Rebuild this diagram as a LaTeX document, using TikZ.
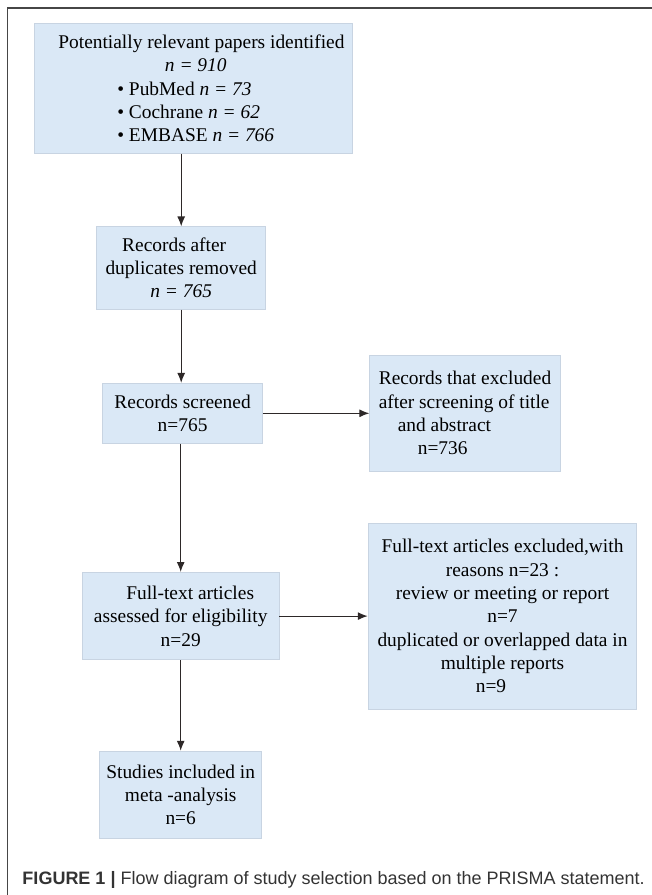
\documentclass[tikz,border=0pt]{standalone}
\usepackage{fontspec}
\setmainfont{Liberation Serif}
\newfontfamily\capfont{Liberation Sans}
\usepackage{tikz}
\usetikzlibrary{arrows.meta, positioning}

\definecolor{boxfill}{RGB}{218,232,246}
\definecolor{boxline}{RGB}{200,212,226}
\definecolor{arrowcol}{RGB}{45,40,40}
\definecolor{framecol}{RGB}{70,70,70}

\begin{document}
\begin{tikzpicture}[x=1pt, y=-1pt,
    flowbox/.style={draw=boxline, line width=0.8pt, fill=boxfill, inner sep=2pt, align=center,
        font=\fontsize{19.4}{23.3}\selectfont},
    flowarrow/.style={-{Latex[length=10pt,width=8pt]}, line width=1.2pt, draw=arrowcol}]
    \useasboundingbox (0,0) rectangle (652,895);

    % frame of the figure
    \draw[framecol, line width=1.3pt] (7.5,895) -- (7.5,8) -- (652,8);

    \node[flowbox, align=left, minimum width=318.7pt, minimum height=130pt] (identified) at (193.4,88.3)
        {\hspace*{16pt}Potentially relevant papers identified\\
         \hspace*{122.6pt}\textit{n = 910}\\
         \hspace*{75pt}• PubMed \textit{n = 73}\\
         \hspace*{75pt}• Cochrane \textit{n = 62}\\
         \hspace*{75pt}• EMBASE \textit{n = 766}};
    \node[flowbox, minimum width=169pt, minimum height=82.3pt, below=72.7pt of identified, xshift=-12.2pt] (dedup)
        {Records after\hspace*{14pt}\\duplicates removed\\\textit{n = 765}};
    \node[flowbox, minimum width=160.1pt, minimum height=60pt, below=73.4pt of dedup, xshift=1.4pt] (screened)
        {Records screened\\n=765};
    \node[flowbox, align=left, minimum width=190.5pt, minimum height=116pt, right=106.3pt of screened] (excl)
        {Records that excluded\\after screening of title\\\hspace*{19pt}and abstract\\\hspace*{39pt}n=736};
    \node[flowbox, minimum width=196.7pt, minimum height=87.4pt, below=128.3pt of screened, xshift=-1.9pt] (fulltext)
        {\hspace*{19pt}Full-text articles\\assessed for eligibility\\n=29};
    \node[flowbox, minimum width=268.7pt, minimum height=186pt, right=88.3pt of fulltext] (ftexcl)
        {Full-text articles excluded,with\\reasons n=23 :\\review or meeting or report\\n=7\hspace*{23pt}\\
         duplicated or overlapped data in\\multiple reports\\n=9\hspace*{23pt}};
    \node[flowbox, minimum width=161.7pt, minimum height=87pt, below=90.6pt of fulltext] (included)
        {Studies included in\\meta -analysis\\n=6};

    \draw[flowarrow] (identified.south -| dedup.north) -- (dedup.north);
    \draw[flowarrow] (dedup.south) -- (dedup.south |- screened.north);
    \draw[flowarrow] (screened.east) -- (screened.east -| excl.west);
    \draw[flowarrow] (screened.south -| fulltext.north) -- (fulltext.north);
    \draw[flowarrow] (fulltext.east) -- (fulltext.east -| ftexcl.west);
    \draw[flowarrow] (fulltext.south) -- (fulltext.south |- included.north);

    \node[anchor=base west, inner sep=0pt, text=black!80, font=\capfont\fontsize{18}{22}\selectfont] (caption) at (22.3,884)
        {\textbf{FIGURE 1 |} Flow diagram of study selection based on the PRISMA statement.};
\end{tikzpicture}
\end{document}
